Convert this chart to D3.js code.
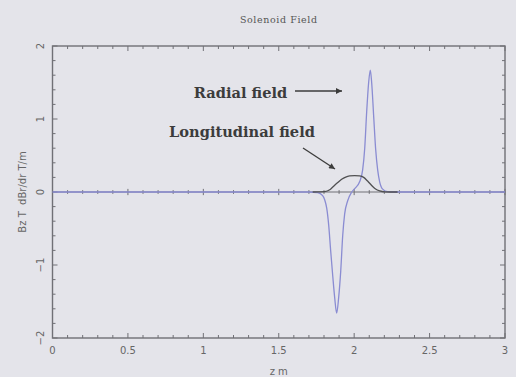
<!DOCTYPE html>
<html>
<head>
<meta charset="utf-8">
<script src="https://cdn.jsdelivr.net/npm/d3@7"></script>
<style>
  html, body { margin: 0; padding: 0; background: #e4e4ea; }
  svg { display: block; }
</style>
</head>
<body>
<div id="chart"></div>
<script>
// Chart values
const title = 'Solenoid Field';
const xLabel = 'z m';
const yLabel = 'Bz T  dBr/dr T/m';
const xMajor = [0, 0.5, 1, 1.5, 2, 2.5, 3];
const xMajorLabels = ['0', '0.5', '1', '1.5', '2', '2.5', '3'];
const yMajor = [-2, -1, 0, 1, 2];
const yMajorLabels = ['\u22122', '\u22121', '0', '1', '2'];

// radial field (blue)
const radialZ = [0, 1.70, 1.758, 1.791, 1.805, 1.818, 1.831, 1.844, 1.858, 1.871, 1.884, 1.897, 1.911, 1.924, 1.937, 1.957, 1.984,
  2.010, 2.036, 2.056, 2.070, 2.083, 2.096, 2.107, 2.116, 2.129, 2.142, 2.156, 2.169, 2.189, 2.222, 2.268, 3];
const radialB = [0, 0, -0.01, -0.05, -0.11, -0.22, -0.45, -0.80, -1.15, -1.45, -1.66, -1.45, -1.08, -0.60, -0.30, -0.12, 0.0,
  0.06, 0.14, 0.30, 0.60, 1.10, 1.50, 1.67, 1.50, 1.05, 0.60, 0.30, 0.14, 0.04, 0.005, 0, 0];

// longitudinal field (dark)
const longZ = [1.725, 1.805, 1.838, 1.864, 1.891, 1.917, 1.944, 1.970, 2.003, 2.036, 2.063, 2.089, 2.116, 2.142, 2.169, 2.202, 2.288];
const longB = [0, 0.005, 0.03, 0.08, 0.13, 0.175, 0.205, 0.22, 0.225, 0.22, 0.20, 0.15, 0.09, 0.04, 0.015, 0.003, 0];

const W = 516, H = 377;
const plot = { left: 52.5, right: 505, top: 46, bottom: 338 };
const axisColor = '#707076';
const tickFont = '"DejaVu Sans", sans-serif';

const svg = d3.select('#chart').append('svg')
  .attr('width', W).attr('height', H);

const x = d3.scaleLinear().domain([0, 3]).range([plot.left, plot.right]);
const y = d3.scaleLinear().domain([-2, 2]).range([plot.bottom, plot.top]);

// title
svg.append('text')
  .attr('x', (plot.left + plot.right) / 2).attr('y', 23)
  .attr('text-anchor', 'middle')
  .attr('font-family', '"DejaVu Serif", serif').attr('font-size', 9.5)
  .attr('fill', '#555').attr('letter-spacing', 0.6)
  .text(title);

// ticks along the frame and the zero line
const g = svg.append('g').attr('stroke', axisColor).attr('stroke-width', 1);
const xMinor = d3.range(0, 31).map(i => i / 10);
const yMinor = d3.range(-10, 11).map(i => i / 5);
const isMajorX = v => Math.abs(v * 2 - Math.round(v * 2)) < 1e-6;
const isMajorY = v => Math.abs(v - Math.round(v)) < 1e-6;

xMinor.forEach(v => {
  const len = isMajorX(v) ? 5 : 3;
  g.append('line').attr('x1', x(v)).attr('x2', x(v)).attr('y1', plot.bottom).attr('y2', plot.bottom - len);
  g.append('line').attr('x1', x(v)).attr('x2', x(v)).attr('y1', plot.top).attr('y2', plot.top + len);
  g.append('line').attr('x1', x(v)).attr('x2', x(v)).attr('y1', y(0) - len / 1.6).attr('y2', y(0) + len / 1.6);
});
yMinor.forEach(v => {
  const len = isMajorY(v) ? 5 : 3;
  g.append('line').attr('y1', y(v)).attr('y2', y(v)).attr('x1', plot.left).attr('x2', plot.left + len);
  g.append('line').attr('y1', y(v)).attr('y2', y(v)).attr('x1', plot.right).attr('x2', plot.right - len);
});
g.append('line').attr('x1', plot.left).attr('x2', plot.right).attr('y1', y(0)).attr('y2', y(0));

// frame
svg.append('rect')
  .attr('x', plot.left).attr('y', plot.top)
  .attr('width', plot.right - plot.left).attr('height', plot.bottom - plot.top)
  .attr('fill', 'none').attr('stroke', axisColor).attr('stroke-width', 1.4);

// tick labels
svg.append('g').selectAll('text').data(xMajor).join('text')
  .attr('x', d => x(d)).attr('y', 354)
  .attr('text-anchor', 'middle')
  .attr('font-family', tickFont).attr('font-size', 10)
  .attr('fill', '#666')
  .text((d, i) => xMajorLabels[i]);

svg.append('g').selectAll('text').data(yMajor).join('text')
  .attr('transform', d => `translate(44,${y(d)}) rotate(-90)`)
  .attr('text-anchor', 'middle')
  .attr('font-family', tickFont).attr('font-size', 10)
  .attr('fill', '#666')
  .text((d, i) => yMajorLabels[i]);

// axis titles
svg.append('text')
  .attr('x', (plot.left + plot.right) / 2).attr('y', 375)
  .attr('text-anchor', 'middle')
  .attr('font-family', tickFont).attr('font-size', 10)
  .attr('fill', '#666')
  .text(xLabel);

svg.append('text')
  .attr('transform', `translate(26,${(plot.top + plot.bottom) / 2}) rotate(-90)`)
  .attr('text-anchor', 'middle')
  .attr('font-family', tickFont).attr('font-size', 10)
  .attr('fill', '#666')
  .attr('xml:space', 'preserve')
  .text(yLabel);

// curves
const line = d3.line()
  .x(d => x(d[0]))
  .y(d => y(d[1]))
  .curve(d3.curveMonotoneX);

svg.append('path')
  .datum(radialZ.map((z, i) => [z, radialB[i]]))
  .attr('fill', 'none').attr('stroke', '#8a8cd2').attr('stroke-width', 1.3)
  .attr('d', line);

svg.append('path')
  .datum(longZ.map((z, i) => [z, longB[i]]))
  .attr('fill', 'none').attr('stroke', '#505052').attr('stroke-width', 1.3)
  .attr('d', line);

// annotations
const defs = svg.append('defs');
defs.append('marker')
  .attr('id', 'head').attr('viewBox', '0 0 10 10')
  .attr('refX', 10).attr('refY', 5)
  .attr('markerWidth', 8).attr('markerHeight', 6)
  .attr('markerUnits', 'userSpaceOnUse')
  .attr('orient', 'auto')
  .append('path').attr('d', 'M0,0 L10,5 L0,10 Z').attr('fill', '#3c3c3c');

const annFont = '"DejaVu Serif", "Liberation Serif", serif';
svg.append('text')
  .attr('x', 240.5).attr('y', 98)
  .attr('text-anchor', 'middle')
  .attr('font-family', annFont).attr('font-weight', 'bold').attr('font-size', 14.6)
  .attr('fill', '#3c3c3c')
  .text('Radial field');
svg.append('text')
  .attr('x', 242).attr('y', 137)
  .attr('text-anchor', 'middle')
  .attr('font-family', annFont).attr('font-weight', 'bold').attr('font-size', 14.6)
  .attr('fill', '#3c3c3c')
  .text('Longitudinal field');

svg.append('line')
  .attr('x1', 295).attr('y1', 91).attr('x2', 342).attr('y2', 91)
  .attr('stroke', '#3c3c3c').attr('stroke-width', 1.3)
  .attr('marker-end', 'url(#head)');
svg.append('line')
  .attr('x1', 303).attr('y1', 148).attr('x2', 335).attr('y2', 169)
  .attr('stroke', '#3c3c3c').attr('stroke-width', 1.3)
  .attr('marker-end', 'url(#head)');
</script>
</body>
</html>
